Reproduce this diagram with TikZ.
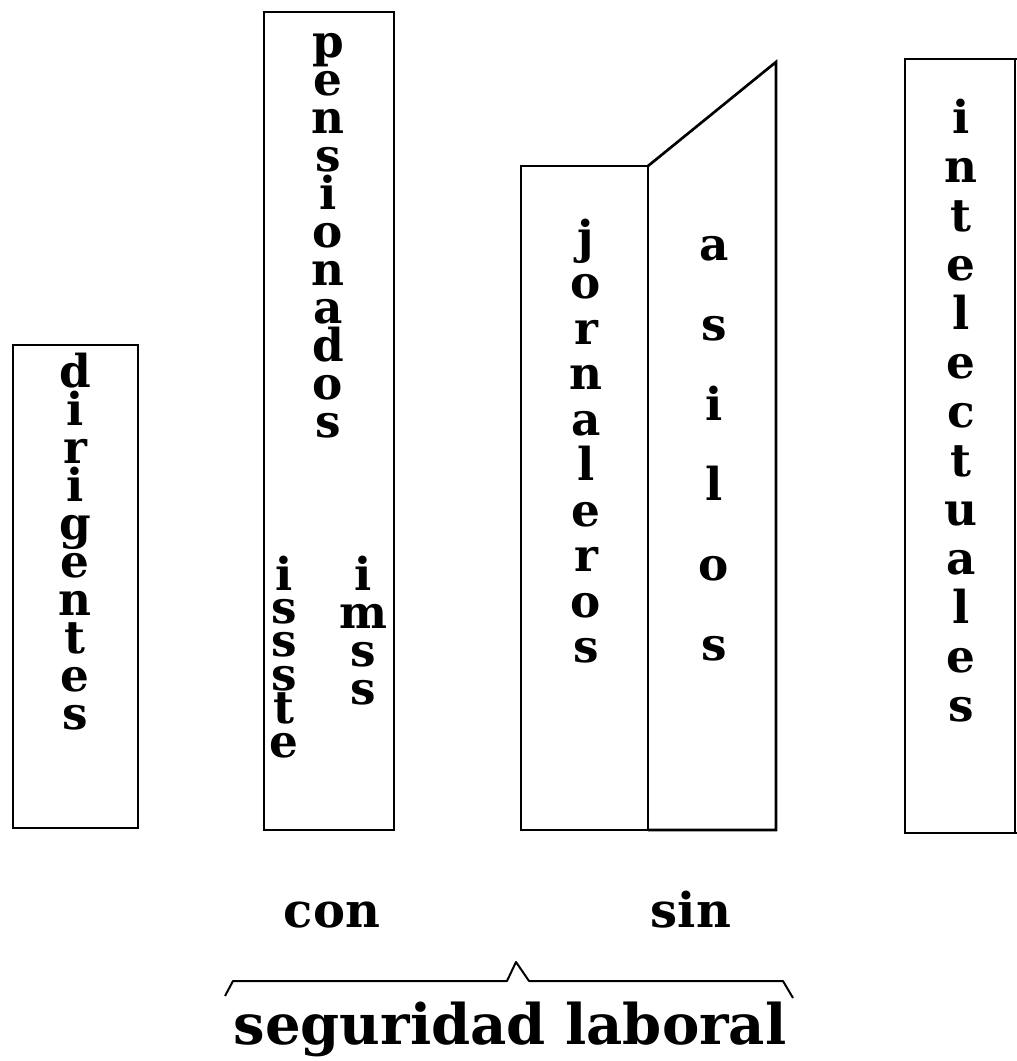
\documentclass[tikz,border=0pt]{standalone}
\usepackage{fontspec}
\setmainfont{DejaVu Serif}[BoldFont={DejaVu Serif Bold}]
\begin{document}
\begin{tikzpicture}[x=0.75pt,y=-0.75pt,
  boxline/.style={line width=2pt,line join=miter},
  braceline/.style={line width=1.5pt,line join=round},
  lett/.style={font=\fontsize{34}{34}\selectfont\bfseries,inner sep=0pt,anchor=base},
  lbl/.style={font=\fontsize{36}{36}\selectfont\bfseries,inner sep=0pt,anchor=base},
  big/.style={font=\fontsize{42}{42}\selectfont\bfseries,inner sep=0pt,anchor=base}]
\useasboundingbox (0,0) rectangle (1017,1061);
% boxes
\draw[boxline] (13,345) rectangle (138,828);
\draw[boxline] (264,12) rectangle (394,830);
\draw[boxline] (521,166) rectangle (648,830);
\draw[boxline] (648,166) -- (776,62) -- (776,830) -- (648,830);
\draw[boxline] (1030,59) -- (905,59) -- (905,833) -- (1030,833);
\draw[boxline] (1015,59) -- (1015,833);
% vertical words
\newcommand\vword[5]{%
  \foreach \l [count=\i] in {#5}
    \node[lett] (#1-\i) at ({#2},{#3+(\i-1)*#4}) {\l};}
\vword{dir}{75}{387}{38}{d,i,r,i,g,e,n,t,e,s}
\vword{pen}{328}{57}{38}{p,e,n,s,i,o,n,a,d,o,s}
\vword{iss}{284}{590}{33.4}{i,s,s,s,t,e}
\vword{ims}{363}{590}{38}{i,m,s,s}
\vword{jor}{586}{253}{45.5}{j,o,r,n,a,l,e,r,o,s}
\vword{asi}{714}{260}{80}{a,s,i,l,o,s}
\vword{int}{961}{133}{49}{i,n,t,e,l,e,c,t,u,a,l,e,s}
% labels
\node[lbl] (con) at (332,927) {con};
\node[lbl] (sin) at (691,927) {sin};
\draw[braceline] (225,996) -- (233,981) -- (507,981) -- (516,962) -- (529,981) -- (783,981) -- (793,998);
\node[big] (seg) at (510,1044) {seguridad laboral};
\end{tikzpicture}
\end{document}
